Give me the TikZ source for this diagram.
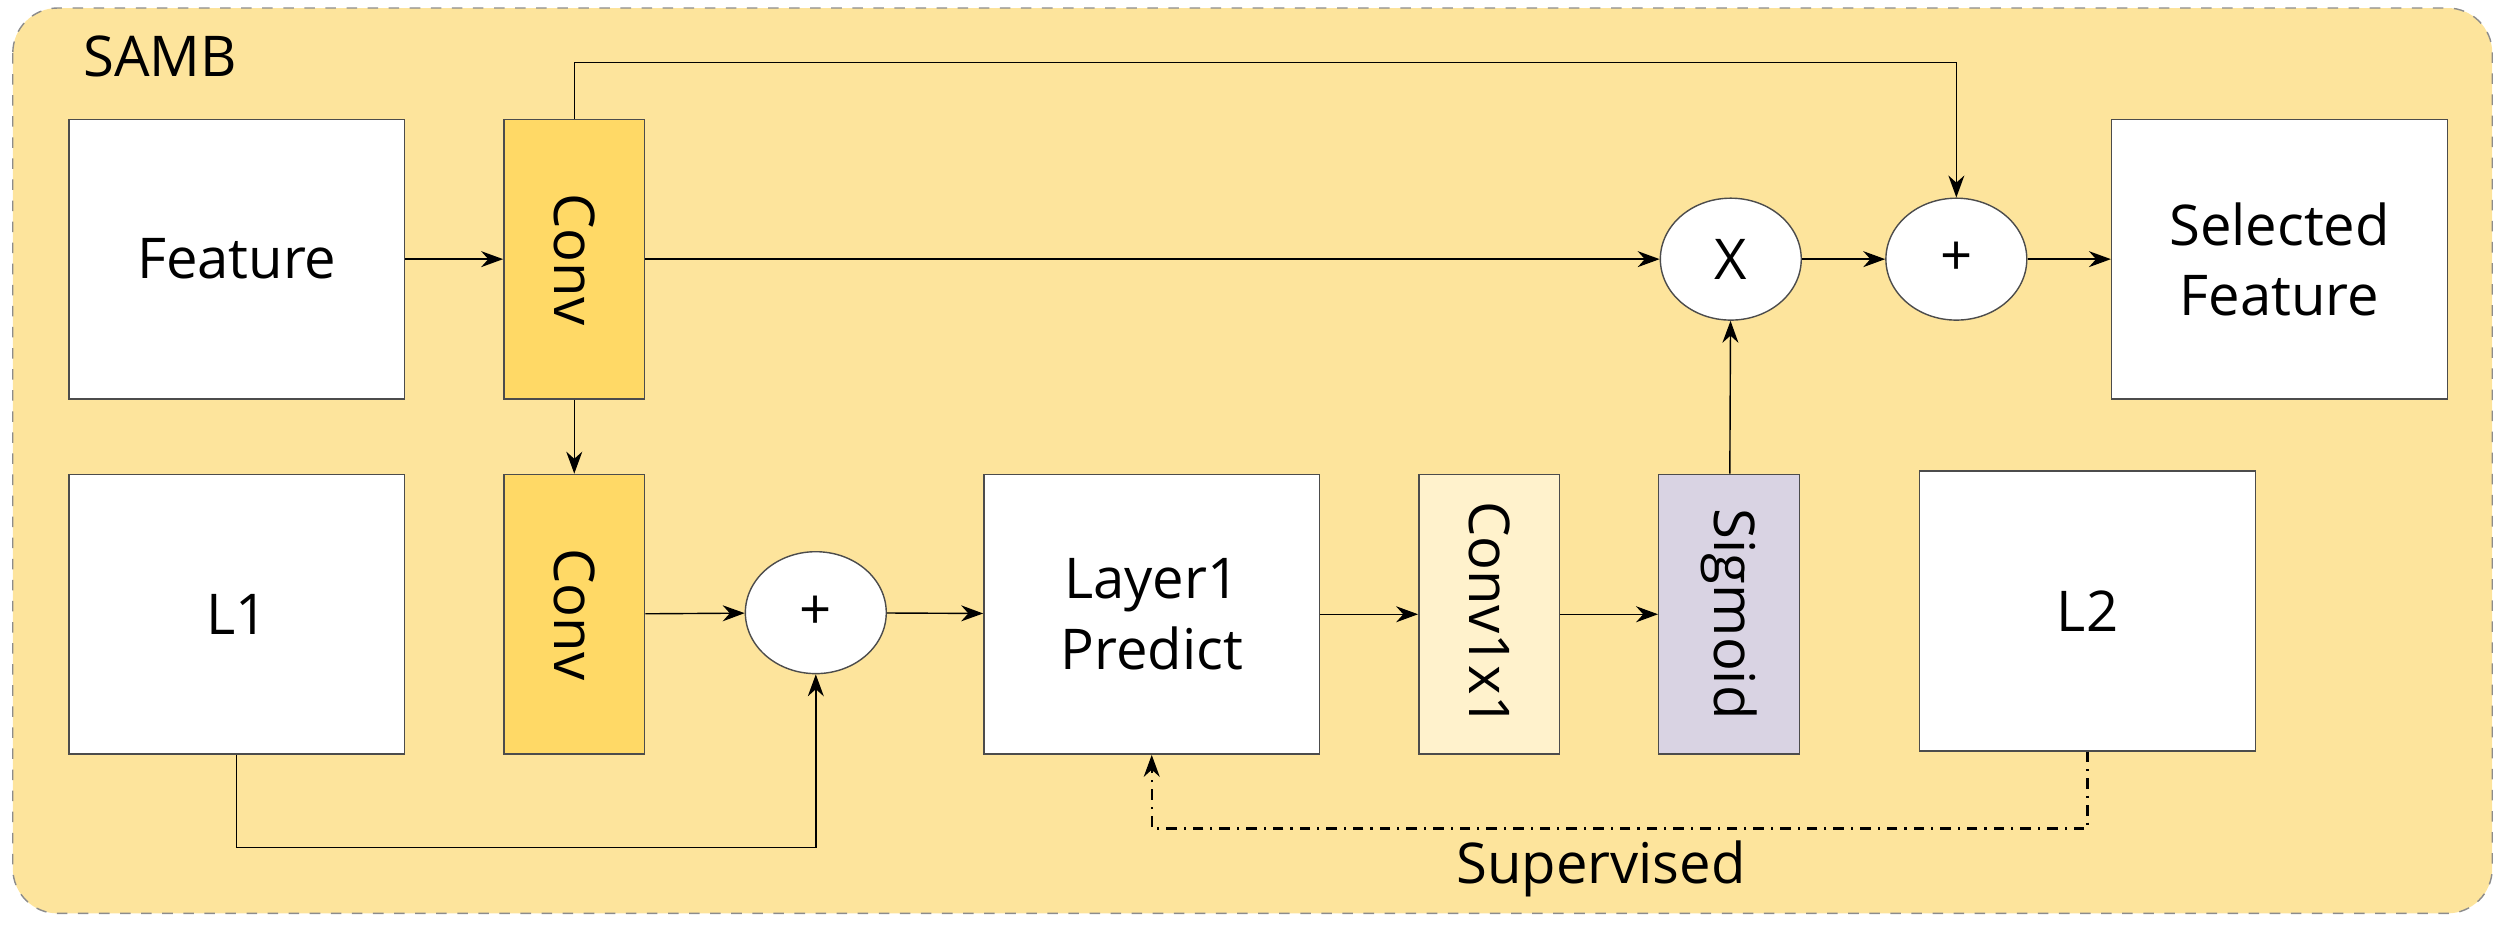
\documentclass[tikz,border=0pt]{standalone}
\usepackage{fontspec}
\setmainfont{Open Sans}
\usetikzlibrary{arrows.meta, shapes.geometric}
\definecolor{Sambbg}{HTML}{FDE49C}
\definecolor{Convyel}{HTML}{FFD966}
\definecolor{Convlight}{HTML}{FFF2CC}
\definecolor{Sigpurple}{HTML}{D9D3E3}
\tikzstyle{block} = [
    rectangle,
    minimum width=3.36cm,
    minimum height=2.8cm,
    align=center,
    draw=black!70,
    fill=white,
    font=\fontsize{16}{20}\selectfont
]
\tikzstyle{conv} = [
    rectangle,
    minimum width=1.41cm,
    minimum height=2.8cm,
    draw=black!70,
    fill=Convyel,
    font=\fontsize{16}{20}\selectfont
]
\tikzstyle{op} = [
    ellipse,
    minimum width=1.41cm,
    minimum height=1.22cm,
    draw=black!70,
    fill=white,
    font=\fontsize{16}{20}\selectfont
]
\tikzstyle{arrow} = [
    thin,
    -{Stealth[length=2.2mm,width=1.6mm]}
]
\begin{document}
\begin{tikzpicture}[x=0.016cm, y=-0.016cm]

        \useasboundingbox (0,0) rectangle (1566,579);
        \draw [rounded corners=0.45cm, fill=Sambbg, draw=black!45, dashed] (8,5) rectangle (1558,571);
        \node (samb) at (100,35) [font=\fontsize{16}{20}\selectfont] {SAMB};

        \node (feature)   [block] at (148,162)                          {Feature};
        \node (convA)     [conv]  at (359,162)                          {\rotatebox{-90}{Conv}};
        \node (convB)     [conv]  at (359,384)                          {\rotatebox{-90}{Conv}};
        \node (l1)        [block] at (148,384)                          {L1};
        \node (plusA)     [op]    at (510,383)                          {+};
        \node (predict)   [block] at (720,384)                          {Layer1\\Predict};
        \node (conv1x1)   [conv, fill=Convlight] at (931,384)           {\rotatebox{-90}{Conv1x1}};
        \node (sigmoid)   [conv, fill=Sigpurple] at (1081,384)          {\rotatebox{-90}{Sigmoid}};
        \node (l2)        [block] at (1305,382)                         {L2};
        \node (mult)      [op]    at (1082,162)                         {X};
        \node (plusB)     [op]    at (1223,162)                         {+};
        \node (selected)  [block] at (1425,162)                         {Selected\\Feature};

        \draw [arrow] (feature)  -- (convA);
        \draw [arrow] (convA)    -- (convB);
        \draw [arrow] (convA)    -- (mult);
        \draw [arrow] (convA.north) -- ++(0,-35) -| (plusB.north);
        \draw [arrow] (mult)     -- (plusB);
        \draw [arrow] (plusB)    -- (selected);
        \draw [arrow] (convB)    -- (plusA);
        \draw [arrow] (l1.south) -- ++(0,58) -| (plusA.south);
        \draw [arrow] (plusA)    -- (predict);
        \draw [arrow] (predict)  -- (conv1x1);
        \draw [arrow] (conv1x1)  -- (sigmoid);
        \draw [arrow] (sigmoid)  -- (mult);
        \draw [arrow, semithick, dash dot] (l2.south) -- ++(0,48) -| node[pos=0.26, below, font=\fontsize{16}{20}\selectfont] {Supervised} (predict.south);

\end{tikzpicture}
\end{document}
